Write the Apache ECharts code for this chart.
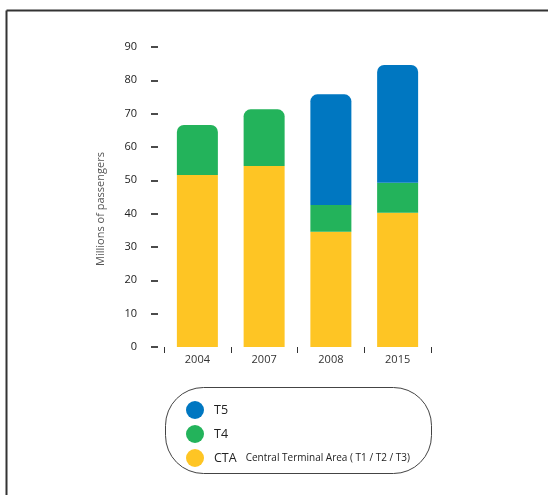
<!DOCTYPE html>
<html>
<head>
<meta charset="utf-8">
<script src="https://cdn.jsdelivr.net/npm/echarts@6/dist/echarts.min.js"></script>
<style>
  html, body { margin: 0; padding: 0; background: #fff; }
  #chart { width: 549px; height: 495px; }
</style>
</head>
<body>
<div id="chart"></div>
<script>
// Heathrow passenger numbers by terminal (millions)
const years = ['2004', '2007', '2008', '2015'];
const ctaValues = [51.6, 54.3, 34.6, 40.3];
const t4Values = [15.0, 17.0, 8.0, 9.0];
const t5Values = [0, 0, 33.2, 35.3];
const yTicks = [0, 10, 20, 30, 40, 50, 60, 70, 80, 90];

const COLORS = { T5: '#0077C1', T4: '#23B35B', CTA: '#FEC524' };
const FONT = '"Open Sans", "Noto Sans", sans-serif';
const RADIUS = [7, 7, 0, 0];

// the topmost non-zero segment of each column gets rounded corners
function segments(values, above) {
  return values.map((v, i) => {
    const isTop = above.every(arr => !arr[i]);
    return {
      value: v === 0 ? '-' : v,
      itemStyle: { borderRadius: isTop ? RADIUS : 0 }
    };
  });
}

const chart = echarts.init(document.getElementById('chart'), null, { renderer: 'canvas' });

chart.setOption({
  animation: false,
  backgroundColor: '#fff',
  grid: { left: 164, right: 118, top: 47, bottom: 148, containLabel: false },
  xAxis: {
    type: 'category',
    data: years,
    offset: 6,
    axisLine: { show: false },
    axisTick: { show: true, length: 6, lineStyle: { color: '#333', width: 1 } },
    axisLabel: { margin: 1, color: '#333', fontSize: 11, fontFamily: FONT }
  },
  yAxis: {
    type: 'value',
    min: yTicks[0],
    max: yTicks[yTicks.length - 1],
    interval: 10,
    offset: 6,
    axisLine: { show: false },
    axisTick: { show: true, length: 7, lineStyle: { color: '#111', width: 1.5 } },
    axisLabel: { margin: 21, color: '#222', fontSize: 11, fontFamily: FONT },
    splitLine: { show: false }
  },
  legend: {
    orient: 'vertical',
    left: 181,
    top: 396,
    icon: 'circle',
    itemWidth: 18,
    itemHeight: 18,
    itemGap: 6,
    data: ['T5', 'T4', 'CTA'],
    selectedMode: false,
    textStyle: {
      color: '#222',
      fontSize: 12.5,
      fontFamily: FONT,
      padding: [0, 0, 0, 5],
      rich: {
        sub: { fontSize: 10, color: '#222', fontFamily: FONT, padding: [0, 0, 0, 9] }
      }
    },
    formatter: name => name === 'CTA'
      ? 'CTA{sub|Central Terminal Area ( T1 / T2 / T3)}'
      : name
  },
  graphic: [
    // outer frame
    { type: 'line', shape: { x1: 6.5, y1: 10.5, x2: 548, y2: 10.5 },
      style: { stroke: '#333', lineWidth: 2 } },
    { type: 'line', shape: { x1: 6.5, y1: 10.5, x2: 6.5, y2: 495 },
      style: { stroke: '#333', lineWidth: 2 } },
    // legend box
    { type: 'rect', shape: { x: 165.5, y: 387.5, width: 266, height: 86, r: 38 },
      style: { fill: 'none', stroke: '#444', lineWidth: 1 }, z: 0 },
    // y-axis title
    { type: 'text', x: 101, y: 209, rotation: Math.PI / 2,
      style: { text: 'Millions of passengers', fill: '#555', fontSize: 11,
               fontFamily: FONT, align: 'center', verticalAlign: 'middle' } }
  ],
  series: [
    { name: 'CTA', type: 'bar', stack: 'total', barWidth: 41,
      itemStyle: { color: COLORS.CTA },
      data: segments(ctaValues, [t4Values, t5Values]) },
    { name: 'T4', type: 'bar', stack: 'total', barWidth: 41,
      itemStyle: { color: COLORS.T4 },
      data: segments(t4Values, [t5Values]) },
    { name: 'T5', type: 'bar', stack: 'total', barWidth: 41,
      itemStyle: { color: COLORS.T5 },
      data: segments(t5Values, []) }
  ]
});
</script>
</body>
</html>
